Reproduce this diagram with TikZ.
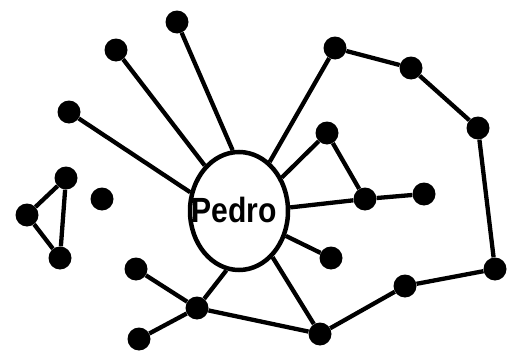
\documentclass[tikz,border=0pt]{standalone}
\usepackage{fontspec}
\setsansfont{Liberation Sans}
\usetikzlibrary{shapes.geometric}
\tikzset{
  dot/.style={circle,fill=black,inner sep=0pt,minimum size=23pt},
  hub/.style={ellipse,draw,line width=4.5pt,minimum width=98pt,minimum height=118pt,inner sep=0pt},
  link/.style={line width=4.3pt}
}

\begin{document}
\begin{tikzpicture}[x=1pt,y=-1pt]
  \useasboundingbox (0,0) rectangle (515,356);

  \node[hub] (pedro) at (239,211) {};
  \node[font=\sffamily\bfseries\fontsize{35}{35}\selectfont,inner sep=0pt] (name) at (234,210) {\scalebox{0.86}[1]{Pedro}};

  % left fan
  \node[dot] (top) at (177,22) {};
  \node[dot] (upl) at (116,50) {};
  \node[dot] (lft) at (69,112) {};

  % triangle and lone dot
  \node[dot] (tria) at (66,178) {};
  \node[dot] (trib) at (27,215) {};
  \node[dot] (tric) at (60,258) {};
  \node[dot] (lone) at (102,199) {};

  % lower left
  \node[dot] (bla) at (136,269) {};
  \node[dot] (blb) at (139,339) {};
  \node[dot] (bhub) at (197,308) {};

  % right side
  \node[dot] (nne) at (335,48) {};
  \node[dot] (rtop) at (411,68) {};
  \node[dot] (rup) at (478,128) {};
  \node[dot] (ne) at (327,133) {};
  \node[dot] (east) at (365,199) {};
  \node[dot] (far) at (424,194) {};
  \node[dot] (se) at (331,258) {};
  \node[dot] (rlow) at (495,269) {};
  \node[dot] (rmid) at (405,286) {};
  \node[dot] (bot) at (320,334) {};

  \draw[link] (top) -- (pedro.96);
  \draw[link] (upl) -- (pedro.127);
  \draw[link] (lft) -- (pedro.159);
  \draw[link] (nne) -- (pedro.58);
  \draw[link] (ne) -- (pedro.38);
  \draw[link] (east) -- (pedro.4);
  \draw[link] (se) -- (pedro.-28);
  \draw[link] (bot) -- (pedro.-54);
  \draw[link] (bhub) -- (pedro.-102);

  \draw[link] (tria) -- (trib) -- (tric) -- (tria);
  \draw[link] (bhub) -- (bla);
  \draw[link] (bhub) -- (blb);
  \draw[link] (bhub) -- (bot);
  \draw[link] (ne) -- (east) -- (far);
  \draw[link] (nne) -- (rtop) -- (rup) -- (rlow) -- (rmid) -- (bot);
\end{tikzpicture}
\end{document}
